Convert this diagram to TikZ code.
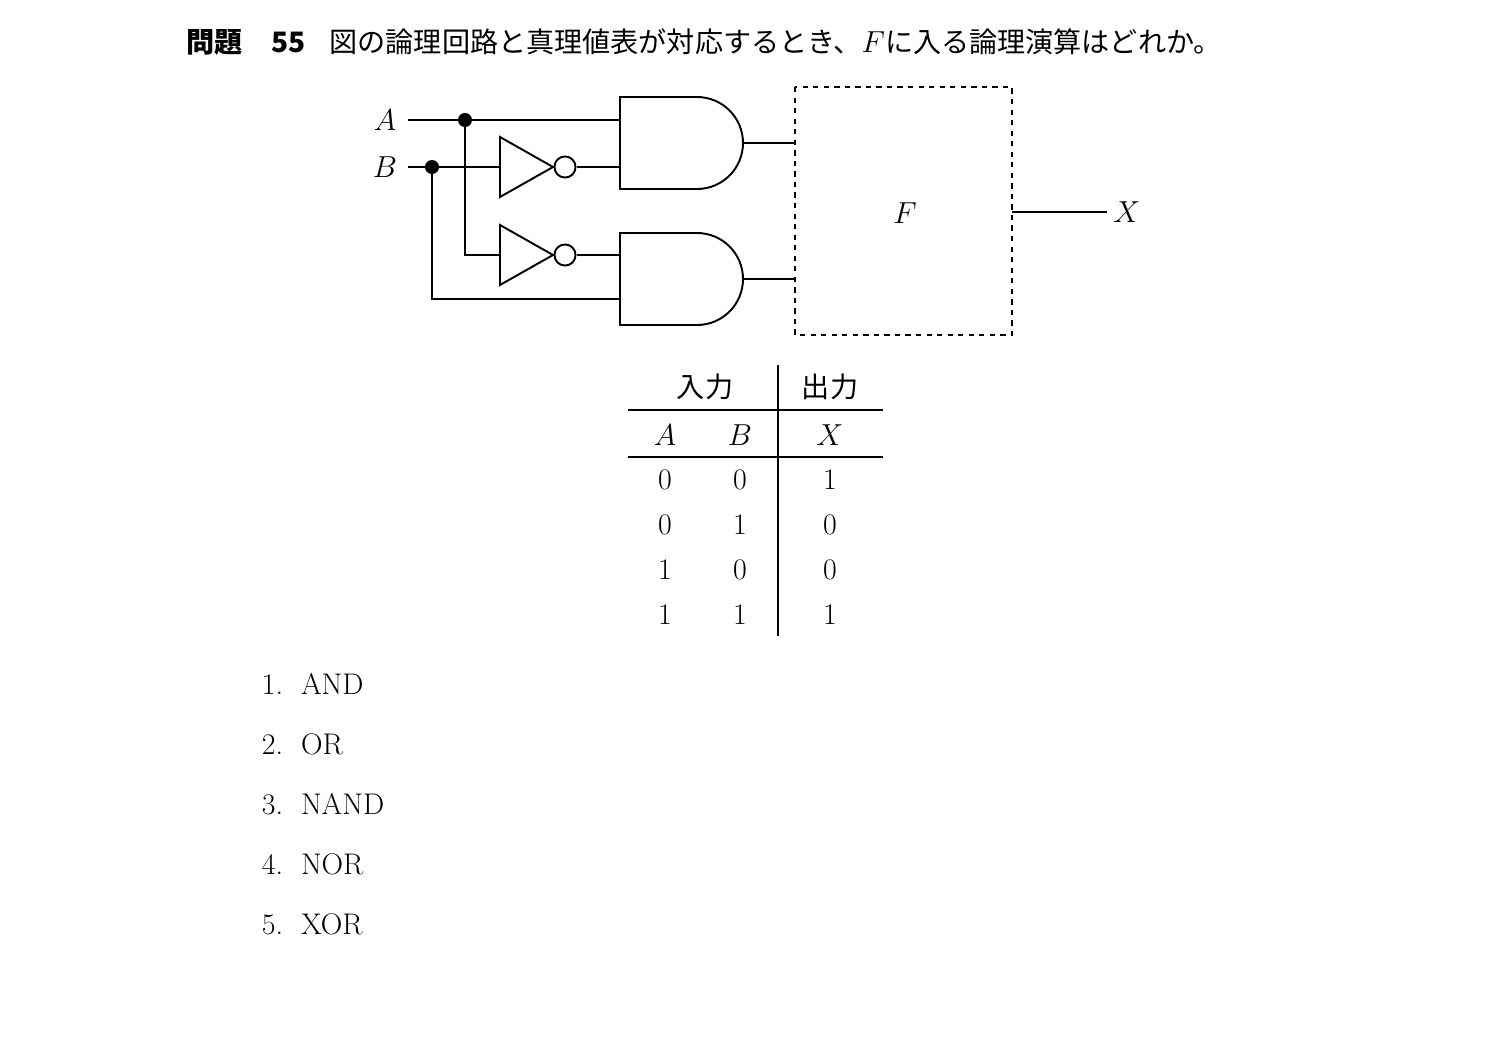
\documentclass[tikz,border=0pt]{standalone}
\usepackage{fontspec}
\newfontfamily\jp{Noto Sans CJK JP}
\usetikzlibrary{positioning}
\begin{document}
\begin{tikzpicture}[x=0.02cm, y=-0.02cm, line width=1.1pt,
    wire/.style={line width=1.1pt},
    dot/.style={circle, fill=black, inner sep=0pt, minimum size=8pt},
    bubble/.style={circle, draw, fill=white, inner sep=0pt, minimum size=12pt, line width=1.1pt},
    lbl/.style={font=\fontsize{17}{20}\selectfont},
    jtext/.style={font=\jp\fontsize{16}{20}\selectfont, anchor=west}
]
\useasboundingbox (0,0) rectangle (1512,1048);

% Question text
\node[jtext, font=\jp\bfseries\fontsize{16}{20}\selectfont] (q) at (180,42) {問題\quad 55};
\node[jtext, right=6pt of q] (qtext) {図の論理回路と真理値表が対応するとき、$F$に入る論理演算はどれか。};

% Inputs
\node[lbl] (A) at (385,120) {$A$};
\node[lbl] (B) at (385,167) {$B$};
\coordinate (dA) at (465,120);
\coordinate (dB) at (432,167);

% Inverters
\draw (500,137) -- (553,167) -- (500,197) -- cycle;
\node[bubble] (n1) at (565,167) {};
\draw (500,225) -- (553,255) -- (500,285) -- cycle;
\node[bubble] (n2) at (565,255) {};

% AND gates
\draw (697,97) -- (620,97) -- (620,189) -- (697,189) arc[start angle=90, end angle=-90, radius=46];
\draw (697,233) -- (620,233) -- (620,325) -- (697,325) arc[start angle=90, end angle=-90, radius=46];

% Wires
\draw[wire] (408,120) -- (620,120);
\draw[wire] (408,167) -- (500,167);
\draw[wire] (n1) -- (620,167);
\draw[wire] (dA) |- (500,255);
\draw[wire] (n2) -- (620,255);
\draw[wire] (dB) |- (620,299);
\draw[wire] (743,143) -- (795,143);
\draw[wire] (743,279) -- (795,279);
\node[dot] at (dA) {};
\node[dot] at (dB) {};

% Block F
\draw[dashed, line width=0.9pt] (795,87) rectangle (1012,335);
\node[lbl] (F) at (905,213) {$F$};
\node[lbl] (X) at (1127,212) {$X$};
\draw[wire] (1012,212) -- (X.west);

% Truth table
\draw[line width=0.7pt] (778,365) -- (778,636);
\draw[line width=0.7pt] (628,410) -- (883,410);
\draw[line width=0.7pt] (628,457) -- (883,457);
\node[lbl, font=\jp\fontsize{16}{20}\selectfont] at (705,387) {入力};
\node[lbl, font=\jp\fontsize{16}{20}\selectfont] at (830,387) {出力};
\node[lbl] at (665,435) {$A$};
\node[lbl] at (740,435) {$B$};
\node[lbl] at (830,435) {$X$};
\foreach \a/\b/\x [count=\i] in {0/0/1, 0/1/0, 1/0/0, 1/1/1} {
  \node[lbl] at (665,435+45*\i) {\a};
  \node[lbl] at (740,435+45*\i) {\b};
  \node[lbl] at (830,435+45*\i) {\x};
}

% Choices
\foreach \t [count=\i] in {AND, OR, NAND, NOR, XOR} {
  \node[lbl, anchor=west] at (255,624+60*\i) {\i.\ \ \t};
}
\end{tikzpicture}
\end{document}
